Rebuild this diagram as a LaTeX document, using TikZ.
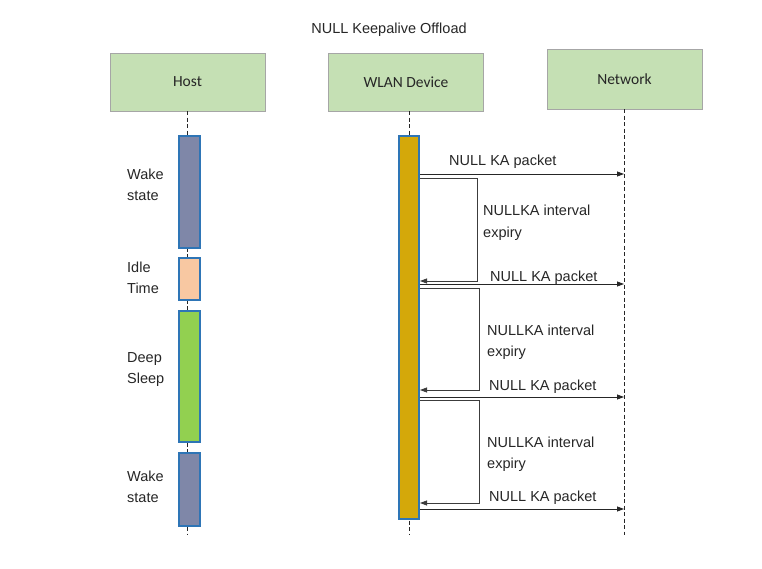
\documentclass[tikz,border=0pt]{standalone}
\usepackage{fontspec}
\setmainfont{Liberation Sans}
\newfontfamily\calibri{Carlito}
\usetikzlibrary{arrows.meta}

\definecolor{headfill}{HTML}{C5E0B4}
\definecolor{headline}{HTML}{A6A6A6}
\definecolor{barline}{HTML}{2E75B6}
\definecolor{wakefill}{HTML}{7F87A8}
\definecolor{idlefill}{HTML}{F8C8A2}
\definecolor{sleepfill}{HTML}{92D050}
\definecolor{wlanfill}{HTML}{D4A80A}
\definecolor{txt}{HTML}{262626}

\tikzset{
  header/.style={draw=headline, fill=headfill, minimum width=155, minimum height=58,
    inner sep=0, text=txt, font=\calibri\fontsize{15.5}{18}\selectfont},
  lifeline/.style={draw=txt, line width=0.7, dash pattern=on 4pt off 2.5pt},
  bar/.style={draw=barline, line width=2, minimum width=21, inner sep=0},
  lbl/.style={anchor=base west, align=left, inner sep=0, text=txt,
    font=\fontsize{14.5}{21}\selectfont},
  msg/.style={draw=txt, line width=0.8, -{Triangle[length=7pt,width=5pt]}},
  selfmsg/.style={draw=txt!90, line width=0.8, -{Triangle[length=7pt,width=5pt]}}
}

\begin{document}
\begin{tikzpicture}[x=1pt, y=-1pt]
    \useasboundingbox (0,0) rectangle (762,569);

    % Title
    \node[lbl, anchor=center] (title) at (389,30) {NULL Keepalive Offload};

    % Participants
    \node[header] (host) at (187.5,82) {Host};
    \node[header] (wlan) at (406,82) {WLAN Device};
    \node[header, minimum height=60] (net) at (624.5,79) {Network};

    % Lifelines
    \coordinate (hostend) at (187,535);
    \coordinate (wlanend) at (409,535);
    \coordinate (netend) at (624,535);
    \draw[lifeline] (host.south -| hostend) -- (hostend);
    \draw[lifeline] (wlan.south -| wlanend) -- (wlanend);
    \draw[lifeline] (net.south -| netend) -- (netend);

    % Host states
    \node[bar, fill=wakefill, minimum height=112] (wake1) at (189,192) {};
    \node[bar, fill=idlefill, minimum height=42] (idle) at (189,279) {};
    \node[bar, fill=sleepfill, minimum height=131] (sleep) at (189,376.5) {};
    \node[bar, fill=wakefill, minimum height=73] (wake2) at (189,489.5) {};

    \node[lbl] (wake1lbl) at (127,201) {Wake\\state};
    \node[lbl] (idlelbl) at (127,293) {Idle\\Time};
    \node[lbl] (sleeplbl) at (127,383) {Deep\\Sleep};
    \node[lbl] (wake2lbl) at (127,502) {Wake\\state};

    % WLAN device activation
    \node[bar, fill=wlanfill, minimum width=20, minimum height=383] (wlanbar) at (409,327.5) {};

    % Keepalive packets to network
    \draw[msg] (wlanbar.east |- 0,174) -- (netend |- 0,174);
    \node[lbl] (pkt1) at (449,166) {NULL KA packet};
    \draw[msg] (wlanbar.east |- 0,284) -- (netend |- 0,284);
    \node[lbl] (pkt2) at (490,281) {NULL KA packet};
    \draw[msg] (wlanbar.east |- 0,397) -- (netend |- 0,397);
    \node[lbl] (pkt3) at (489,390) {NULL KA packet};
    \draw[msg] (wlanbar.east |- 0,509) -- (netend |- 0,509);
    \node[lbl] (pkt4) at (489,501) {NULL KA packet};

    % Interval expiry loops
    \draw[selfmsg] (wlanbar.east |- 0,178) -- (477,178) -- (477,281) -- (wlanbar.east |- 0,281);
    \node[lbl] (exp1) at (483,237) {NULLKA interval\\expiry};
    \draw[selfmsg] (wlanbar.east |- 0,288) -- (479,288) -- (479,390) -- (wlanbar.east |- 0,390);
    \node[lbl] (exp2) at (487,356) {NULLKA interval\\expiry};
    \draw[selfmsg] (wlanbar.east |- 0,400) -- (479,400) -- (479,503) -- (wlanbar.east |- 0,503);
    \node[lbl] (exp3) at (487,468) {NULLKA interval\\expiry};
\end{tikzpicture}
\end{document}
